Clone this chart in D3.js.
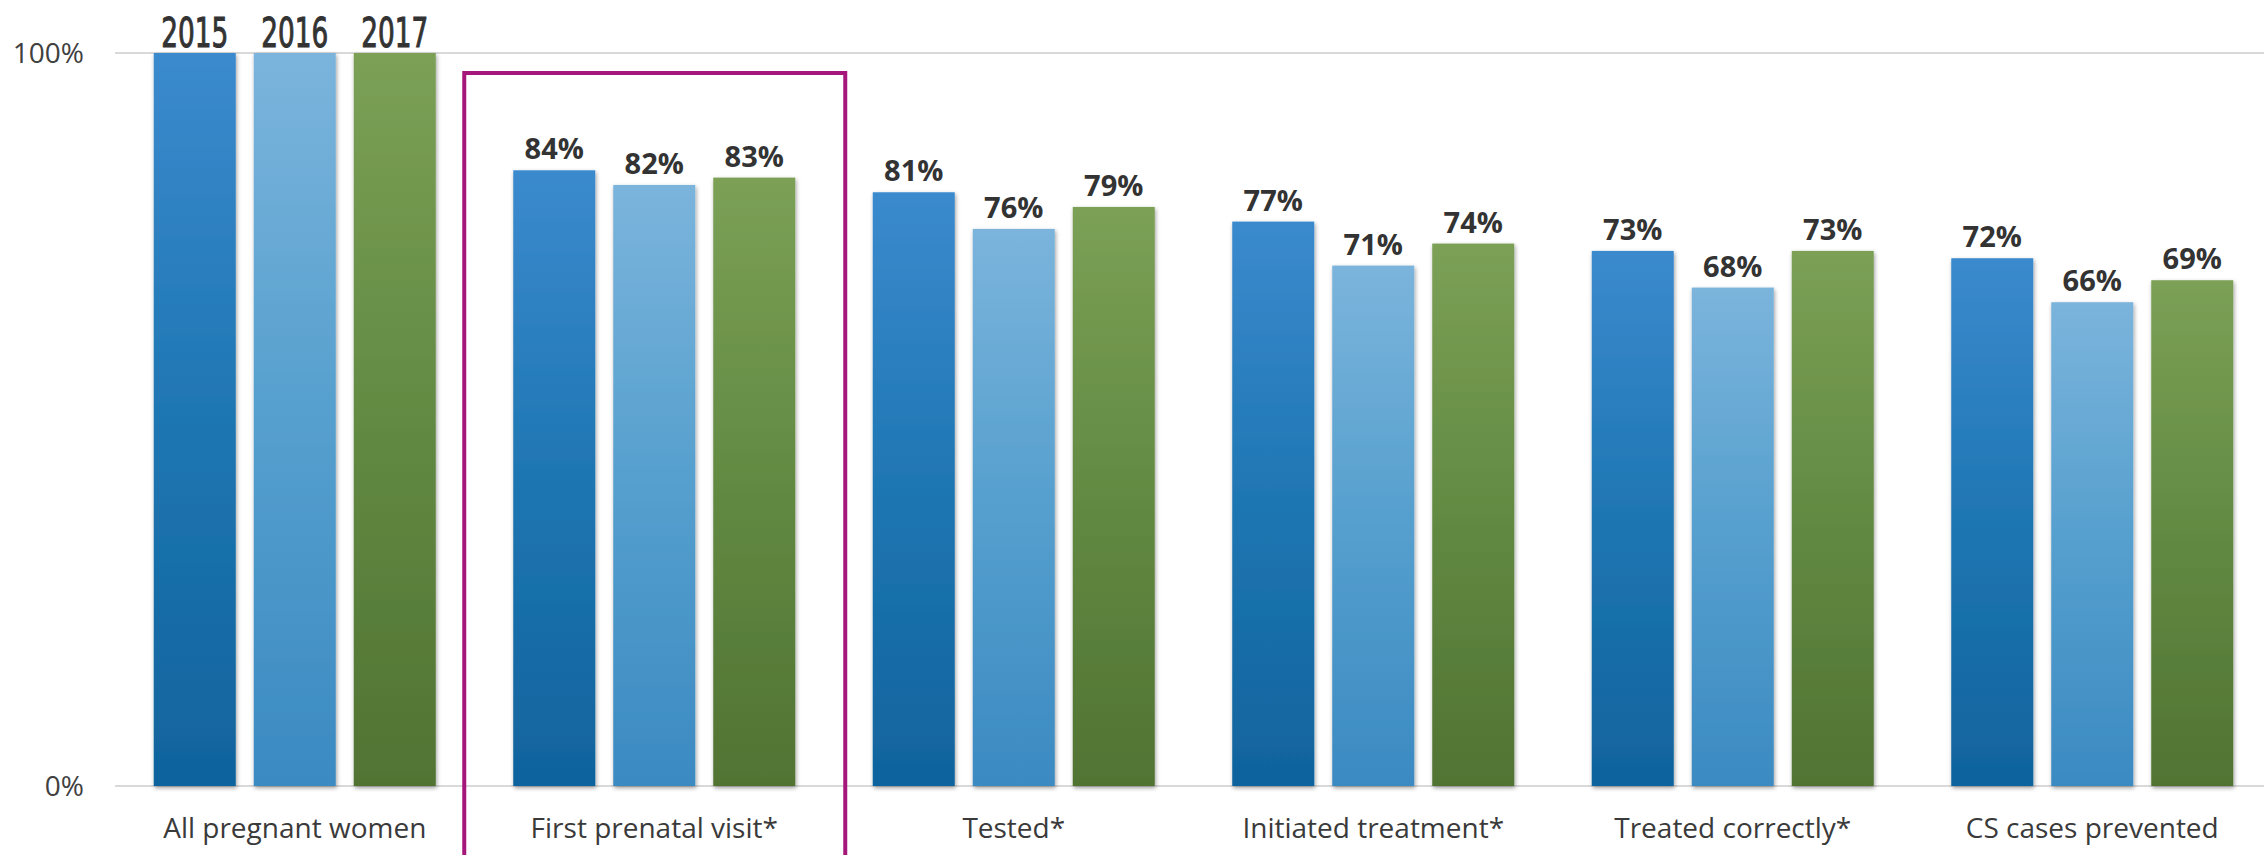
<!DOCTYPE html>
<html>
<head>
<meta charset="utf-8">
<script src="https://cdn.jsdelivr.net/npm/d3@7"></script>
<style>
  html, body { margin: 0; padding: 0; background: #fff; }
  svg { display: block; }
</style>
</head>
<body>
<svg id="chart" width="2264" height="855"></svg>
<script>
// Congenital syphilis prevention cascade, share of pregnant women by step and year
const categories = [
  "All pregnant women",
  "First prenatal visit*",
  "Tested*",
  "Initiated treatment*",
  "Treated correctly*",
  "CS cases prevented"
];
const years = ["2015", "2016", "2017"];
const values2015 = [100, 84, 81, 77, 73, 72];
const values2016 = [100, 82, 76, 71, 68, 66];
const values2017 = [100, 83, 79, 74, 73, 69];
const yTicks = [0, 100];
const highlighted = "First prenatal visit*";

const seriesValues = [values2015, values2016, values2017];
const palette = {
  "2015": ["#3B8ACE", "#1E76B2", "#10639D"],
  "2016": ["#7BB4DC", "#559FCE", "#3B8AC2"],
  "2017": ["#7BA056", "#628A42", "#517333"]
};

const svg = d3.select("#chart");
const W = 2264, H = 855;
const plot = { left: 115, right: 2272, top: 53, bottom: 786 };

const x0 = d3.scaleBand().domain(categories).range([plot.left, plot.right]).padding(0);
const groupWidth = 282;
const x1 = d3.scaleBand().domain(years).range([0, groupWidth]).paddingInner(0.18).paddingOuter(0);
const y = d3.scaleLinear().domain([0, 100]).range([plot.bottom, plot.top]);
const groupStart = c => x0(c) + x0.bandwidth() / 2 - groupWidth / 2;

const defs = svg.append("defs");
years.forEach(yr => {
  const g = defs.append("linearGradient")
    .attr("id", "grad" + yr)
    .attr("x1", 0).attr("y1", 0).attr("x2", 0).attr("y2", 1);
  palette[yr].forEach((col, i) => {
    g.append("stop").attr("offset", (i / 2 * 100) + "%").attr("stop-color", col);
  });
});
const shadow = defs.append("filter").attr("id", "barShadow")
  .attr("x", "-15%").attr("y", "-5%").attr("width", "130%").attr("height", "112%");
shadow.append("feDropShadow")
  .attr("dx", 1).attr("dy", 2).attr("stdDeviation", 2.2)
  .attr("flood-color", "#000").attr("flood-opacity", 0.38);

// Gridlines at tick values
svg.append("g").selectAll("line")
  .data(yTicks)
  .join("line")
  .attr("x1", plot.left).attr("x2", W)
  .attr("y1", d => y(d)).attr("y2", d => y(d))
  .attr("stroke", "#D9D9D9").attr("stroke-width", 2);

// Y tick labels
svg.append("g").selectAll("text")
  .data(yTicks)
  .join("text")
  .attr("x", 84).attr("y", d => y(d))
  .attr("dy", "0.36em")
  .attr("text-anchor", "end")
  .attr("font-family", "'Open Sans', sans-serif")
  .attr("font-size", 28)
  .attr("fill", "#404040")
  .text(d => d + "%");

// Bars
const rows = [];
categories.forEach((c, ci) => {
  years.forEach((yr, si) => rows.push({ cat: c, year: yr, value: seriesValues[si][ci], ci }));
});

svg.append("g").selectAll("rect")
  .data(rows)
  .join("rect")
  .attr("x", d => groupStart(d.cat) + x1(d.year))
  .attr("y", d => y(d.value))
  .attr("width", x1.bandwidth())
  .attr("height", d => y(0) - y(d.value))
  .attr("fill", d => "url(#grad" + d.year + ")")
  .attr("filter", "url(#barShadow)");

// Value labels (the full-population group carries the year names instead)
svg.append("g").selectAll("text")
  .data(rows.filter(d => d.ci > 0))
  .join("text")
  .attr("x", d => groupStart(d.cat) + x1(d.year) + x1.bandwidth() / 2)
  .attr("y", d => y(d.value) - 11)
  .attr("text-anchor", "middle")
  .attr("font-family", "'Open Sans', sans-serif")
  .attr("font-weight", 700)
  .attr("font-size", 29)
  .attr("fill", "#333333")
  .text(d => d.value + "%");

svg.append("g").selectAll("text")
  .data(rows.filter(d => d.ci === 0))
  .join("text")
  .attr("x", d => groupStart(d.cat) + x1(d.year) + x1.bandwidth() / 2)
  .attr("y", d => y(d.value) - 6)
  .attr("text-anchor", "middle")
  .attr("font-family", "'Liberation Sans Narrow', 'DejaVu Sans Condensed', sans-serif")
  .attr("font-size", 41)
  .attr("textLength", 67)
  .attr("lengthAdjust", "spacingAndGlyphs")
  .attr("fill", "#333333")
  .attr("stroke", "#333333")
  .attr("stroke-width", 1)
  .text(d => d.year);

// Category labels
svg.append("g").selectAll("text")
  .data(categories)
  .join("text")
  .attr("x", d => x0(d) + x0.bandwidth() / 2)
  .attr("y", 838)
  .attr("text-anchor", "middle")
  .attr("font-family", "'Open Sans', sans-serif")
  .attr("font-size", 28)
  .attr("fill", "#3A3A3A")
  .text(d => d);

// Highlight frame around the first prenatal visit group
const hx = x0(highlighted) + x0.bandwidth() / 2;
svg.append("rect")
  .attr("x", hx - 190)
  .attr("y", 73)
  .attr("width", 381)
  .attr("height", H)
  .attr("fill", "none")
  .attr("stroke", "#A5177B")
  .attr("stroke-width", 4);
</script>
</body>
</html>
